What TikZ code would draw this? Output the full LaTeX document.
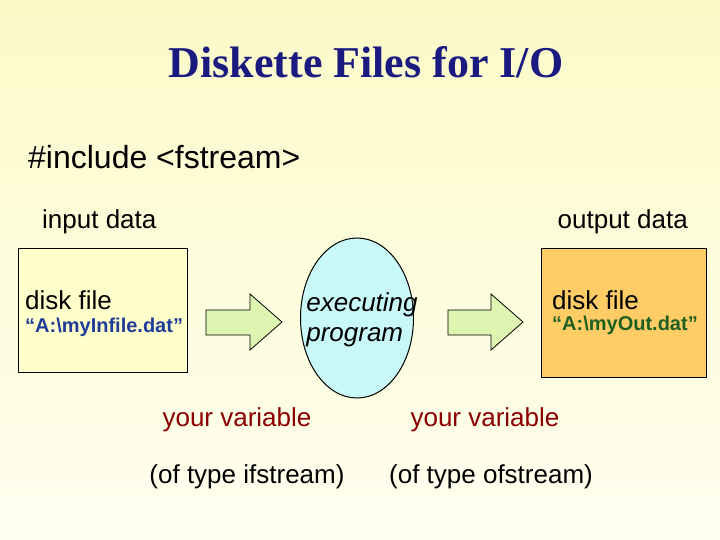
\documentclass[tikz,border=0pt]{standalone}
\usepackage{fontspec}
\setmainfont{Liberation Sans}
\newfontfamily\timesf{Liberation Serif}
\usetikzlibrary{shapes.geometric}
\definecolor{bgtop}{HTML}{FCFAC8}
\definecolor{bgbot}{HTML}{FFFFF0}
\definecolor{lbox}{HTML}{FFFFCC}
\definecolor{rbox}{HTML}{FFCC66}
\definecolor{ell}{HTML}{C8F8F8}
\definecolor{arr}{HTML}{DDF5B0}
\definecolor{navy}{HTML}{1A1A80}
\definecolor{dred}{HTML}{8B0000}
\definecolor{fblue}{HTML}{1F3C99}
\definecolor{fgreen}{HTML}{1F5F1F}
\tikzset{
  lbl/.style={font=\fontsize{26}{30}\selectfont, inner sep=0pt},
  fname/.style={font=\bfseries\fontsize{20}{24}\selectfont, anchor=west, inner sep=0pt},
  fat/.style={draw=black, fill=arr, line width=0.8pt}
}
\begin{document}
\begin{tikzpicture}[x=1pt,y=-1pt]
\shade[top color=bgtop, bottom color=bgbot] (0,0) rectangle (720,540);
\useasboundingbox (0,0) rectangle (720,540);
\node[font=\timesf\bfseries\fontsize{44}{50}\selectfont, text=navy] (title) at (366,62) {Diskette Files for I/O};
\node[font=\fontsize{32}{36}\selectfont, anchor=west, inner sep=0pt] (inc) at (28,157) {\#include <fstream>};
\node[lbl, anchor=west] (ind) at (42,222) {input data};
\node[lbl, anchor=east] (outd) at (688,222) {output data};
\draw[line width=1pt, fill=lbox] (18,248) rectangle (187,372);
\node[lbl, anchor=west] (df1) at (25,300) {disk file};
\node[fname, text=fblue] (fn1) at (25,327) {“A:\textbackslash myInfile.dat”};
\draw[line width=1pt, fill=rbox] (541,248) rectangle (706,377);
\node[lbl, anchor=west] (df2) at (552,300) {disk file};
\node[fname, text=fgreen] (fn2) at (552,325) {“A:\textbackslash myOut.dat”};
\node[ellipse, draw=black, line width=1pt, fill=ell, minimum width=113pt, minimum height=160pt, inner sep=0pt] (prog) at (357,318) {};
\node[font=\itshape\fontsize{26}{30}\selectfont, align=left] (ptxt) at (362,320) {executing\\program};
\draw[fat] (206,310) -- (250,310) -- (250,294) -- (282,322) -- (250,350) -- (250,335) -- (206,335) -- cycle;
\draw[fat] (448,310) -- (491,310) -- (491,294) -- (523,322) -- (491,350) -- (491,335) -- (448,335) -- cycle;
\node[lbl, text=dred] (v1) at (237,420) {your variable};
\node[lbl] (t1) at (247,477) {(of type ifstream)};
\node[lbl, text=dred] (v2) at (485,420) {your variable};
\node[lbl] (t2) at (491,477) {(of type ofstream)};
\end{tikzpicture}
\end{document}
